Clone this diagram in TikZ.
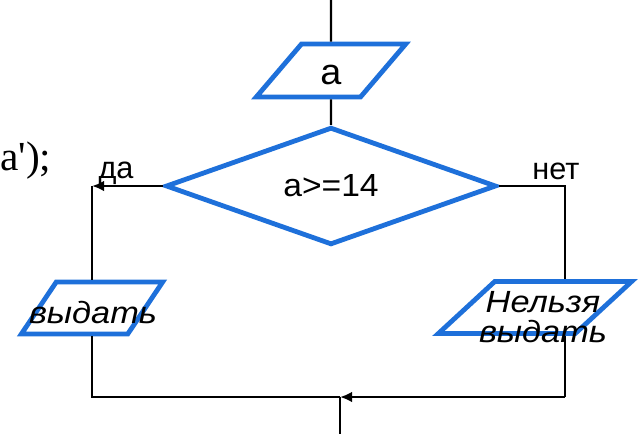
\documentclass[tikz,border=0pt]{standalone}
\usepackage{fontspec}
\setmainfont{Liberation Sans}
\newfontfamily\boxfont[FakeStretch=1.05]{Liberation Sans}
\newfontfamily\outfont[FakeStretch=1.12]{Liberation Sans}
\newfontfamily\codefont{Liberation Serif}
\usetikzlibrary{shapes.geometric,arrows.meta}
\definecolor{fc_blue}{RGB}{30, 112, 218}
\tikzstyle{io}=[trapezium,trapezium left angle=60,trapezium right angle=120,
  trapezium stretches=true,fill=white,draw=fc_blue,line width=3.6pt,inner sep=2pt]
\tikzstyle{dec}=[diamond,fill=white,draw=fc_blue,line width=3.6pt,inner sep=0pt,
  minimum width=248pt,minimum height=79.5pt,font=\boxfont\fontsize{24}{24}\selectfont]
\tikzstyle{wire}=[line width=1.8pt]
\tikzstyle{arr}=[line width=1.8pt,-{Latex[length=9pt,width=8pt]}]
\tikzstyle{lbl}=[anchor=base,inner sep=0pt,font=\fontsize{23}{23}\selectfont]
\tikzstyle{outtext}=[inner sep=0pt,align=center,font=\outfont\itshape\fontsize{23}{22}\selectfont]
\tikzstyle{none}=[]
\begin{document}
\begin{tikzpicture}[x=0.75pt,y=-0.75pt]
    \useasboundingbox (0,0) rectangle (643,433);
    \clip (0,0) rectangle (643,433);
        \node [style=none,anchor=base west,inner sep=0pt,font=\codefont\fontsize{31}{31}\selectfont] (1) at (0,170) {a');};
        \coordinate (0) at (331,-5);
        \node [style=io,minimum width=112.5pt,minimum height=39.75pt,text height=22pt,font=\boxfont\fontsize{27}{27}\selectfont] (2) at (331,70.5) {a};
        \node [style=dec] (7) at (331,186) {a>=14};
        \node [style=lbl] (3) at (116,178) {да};
        \node [style=lbl] (4) at (556,179) {нет};
        \coordinate (9) at (92,186);
        \coordinate (10) at (565,186);
        \node [style=io,trapezium left angle=64,trapezium right angle=116,minimum width=106pt,minimum height=39pt] (11) at (92,308) {};
        \node [style=io,trapezium left angle=55,trapezium right angle=125,minimum width=145pt,minimum height=39pt] (13) at (535,307.5) {};
        \node [style=outtext,anchor=base] (12) at (93,323) {выдать};
        \node [style=outtext] (14) at (543,317) {Нельзя\\выдать};
        \coordinate (15) at (92,397);
        \coordinate (16) at (565,397);
        \coordinate (17) at (340,397);
        \coordinate (18) at (340,440);
		\draw [style=wire] (0) to (2);
		\draw [style=wire] (2) to (7);
		\draw [style=arr] (7) to (9);
		\draw [style=wire] (9) to (11);
		\draw [style=wire] (7) to (10) to (10 |- 13.north);
		\draw [style=wire] (10 |- 13.south) to (16);
		\draw [style=wire] (11) to (15) to (17);
		\draw [style=arr] (16) to (17);
		\draw [style=wire] (17) to (18);
\end{tikzpicture}
\end{document}
